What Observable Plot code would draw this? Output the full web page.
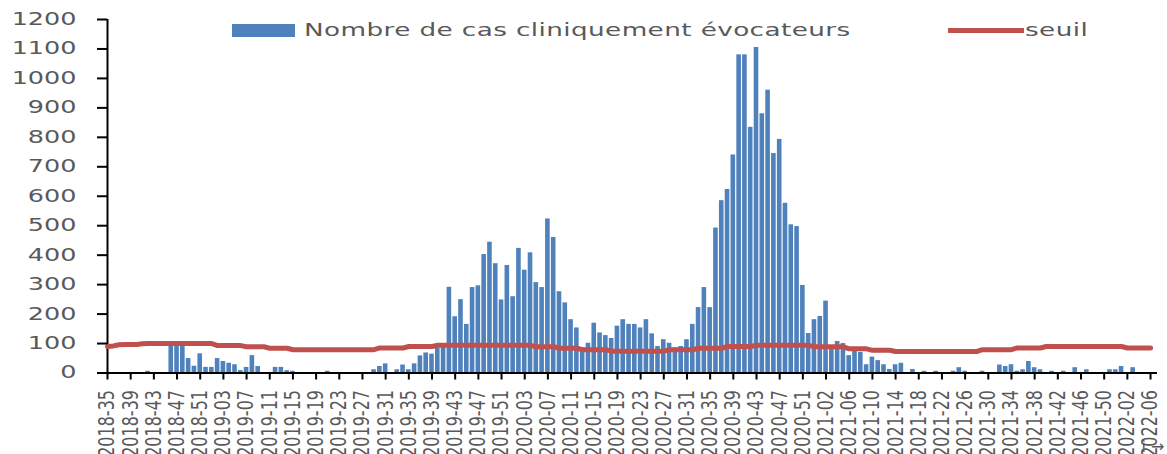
<!DOCTYPE html>
<html><head><meta charset="utf-8">
<script src="https://cdn.jsdelivr.net/npm/d3@7"></script>
<script src="https://cdn.jsdelivr.net/npm/@observablehq/plot@0.6"></script>
<style>
body{margin:0;background:#fff;overflow:hidden;}
#wrap{position:relative;width:1167px;height:454px;overflow:hidden;}
.legtxt{position:absolute;font-family:"DejaVu Sans";font-size:17.5px;letter-spacing:0.27px;color:#595959;transform:scaleX(1.5);transform-origin:0 0;white-space:nowrap;line-height:1;}
.sw{position:absolute;}
</style></head><body><div id="wrap"></div>
<script>
// Weekly counts, 2018-35 .. 2022-06 (181 weeks)
const cases = [
 0,0,0,0,0,0,0,6,0,0, 0,100,100,100,49,23,65,19,19,49,
 39,33,28,8,19,59,22,0,0,19, 19,8,6,0,0,0,0,0,6,0,
 0,0,0,0,0,0,11,22,31,0, 11,27,11,31,58,68,64,85,95,291,
 191,249,165,290,296,402,444,371,248,365, 259,423,349,408,307,290,523,460,276,238,
 181,153,85,101,169,136,127,117,159,181, 165,165,153,181,133,90,113,101,85,90,
 113,165,222,290,222,492,585,623,740,1080, 1080,834,1105,880,960,745,793,576,503,497,
 297,134,181,192,244,85,107,100,59,74, 70,28,54,42,28,12,28,33,0,12,
 0,6,0,6,0,0,6,18,6,0, 0,6,0,0,27,22,28,6,11,39,
 18,11,0,6,0,6,0,18,0,11, 0,0,0,11,11,22,0,18,0,0,
 0
];
const threshold = [
 90,92,96,97,97,97,99,
 100,100,100,100,100,100,100,100,100,100,100,100,
 93,93,93,93,93,
 89,89,89,89,
 84,84,84,84,
 79,79,79,79,79,79,79,79,79,79,79,79,79,79,79,
 85,85,85,85,85,
 90,90,90,90,90,
 94,94,94,94,94,94,94,94,94,94,94,94,94,94,94,94,94,
 89,89,89,89,
 84,84,84,84,
 79,79,79,79,79,
 74,74,74,74,74,74,74,74,74,74,
 79,79,79,79,79,
 84,84,84,84,84,
 90,90,90,90,90,
 94,94,94,94,94,94,94,94,94,94,
 89,89,89,89,89,89,
 82,82,82,82,
 77,77,77,77,
 73,73,73,73,73,73,73,73,73,73,73,73,73,73,73,
 79,79,79,79,79,79,
 85,85,85,85,85,
 90,90,90,90,90,90,90,90,90,90,90,90,90,90,
 85,85,85,85,85
];
const tickLabels = ["2018-35","2018-39","2018-43","2018-47","2018-51","2019-03","2019-07","2019-11","2019-15","2019-19","2019-23","2019-27","2019-31","2019-35","2019-39","2019-43","2019-47","2019-51","2020-03","2020-07","2020-11","2020-15","2020-19","2020-23","2020-27","2020-31","2020-35","2020-39","2020-43","2020-47","2020-51","2021-02","2021-06","2021-10","2021-14","2021-18","2021-22","2021-26","2021-30","2021-34","2021-38","2021-42","2021-46","2021-50","2022-02","2022-06"];
const yTicks = [0,100,200,300,400,500,600,700,800,900,1000,1100,1200];
const seriesNames = ["Nombre de cas cliniquement évocateurs","seuil"];
const colors = ["#4f81bd","#c0504d"];

const data = cases.map((v,i)=>({i, v, t: threshold[i]}));
const tickIdx = tickLabels.map((_,k)=>k*4);

const chart = Plot.plot({
  width:1167, height:454,
  marginLeft:107, marginRight:10, marginTop:19, marginBottom:81.5,
  style:{fontFamily:"DejaVu Sans", fontSize:"17px", color:"#595959", background:"#fff", overflow:"visible"},
  x:{type:"linear", domain:[0,181.2]},
  y:{domain:[0,1200]},
  marks:[
    Plot.rectY(data,{x1:d=>d.i-0.5, x2:d=>d.i+0.5, y:"v", fill:colors[0], insetLeft:0.6, insetRight:0.6}),
    Plot.ruleY([0],{stroke:"#000", strokeWidth:2}),
    Plot.ruleX([0],{stroke:"#000", strokeWidth:2}),
    Plot.lineY(data,{x:"i", y:"t", stroke:colors[1], strokeWidth:5}),
    Plot.axisY({ticks:yTicks, tickSize:10, tickPadding:21, tickFormat:d=>String(d), stroke:"#000", strokeWidth:2, fill:"#595959", fontSize:17}),
    Plot.axisX({ticks:tickIdx, tickSize:7, tickPadding:10, tickRotate:-90, tickFormat:d=>tickLabels[Math.round(d/4)], stroke:"#000", strokeWidth:2, fill:"#595959", fontSize:16})
  ]
});
const wrap = document.getElementById("wrap");
wrap.appendChild(chart);

// horizontal stretch of axis texts (reference is stretched horizontally)
function stretch(sel, s){
  d3.select(chart).selectAll(sel).each(function(){
    const t = this.getAttribute("transform") || "";
    const m = t.match(/^\s*translate\(([^)]*)\)(.*)$/);
    if (m) this.setAttribute("transform", `translate(${m[1]}) scale(${s},1)${m[2]}`);
  });
}
stretch('g[aria-label="y-axis tick label"] text', 1.5);
stretch('g[aria-label="x-axis tick label"] text', 1.35);

// legend overlay
function add(html){ wrap.insertAdjacentHTML("beforeend", html); }
add(`<div class="sw" style="left:232px;top:24px;width:63px;height:13px;background:${colors[0]}"></div>`);
add(`<div class="legtxt" style="left:304px;top:22px">${seriesNames[0]}</div>`);
add(`<div class="sw" style="left:948px;top:28px;width:76px;height:5px;background:${colors[1]}"></div>`);
add(`<div class="legtxt" style="left:1025px;top:22px">${seriesNames[1]}</div>`);
</script>
</body></html>
